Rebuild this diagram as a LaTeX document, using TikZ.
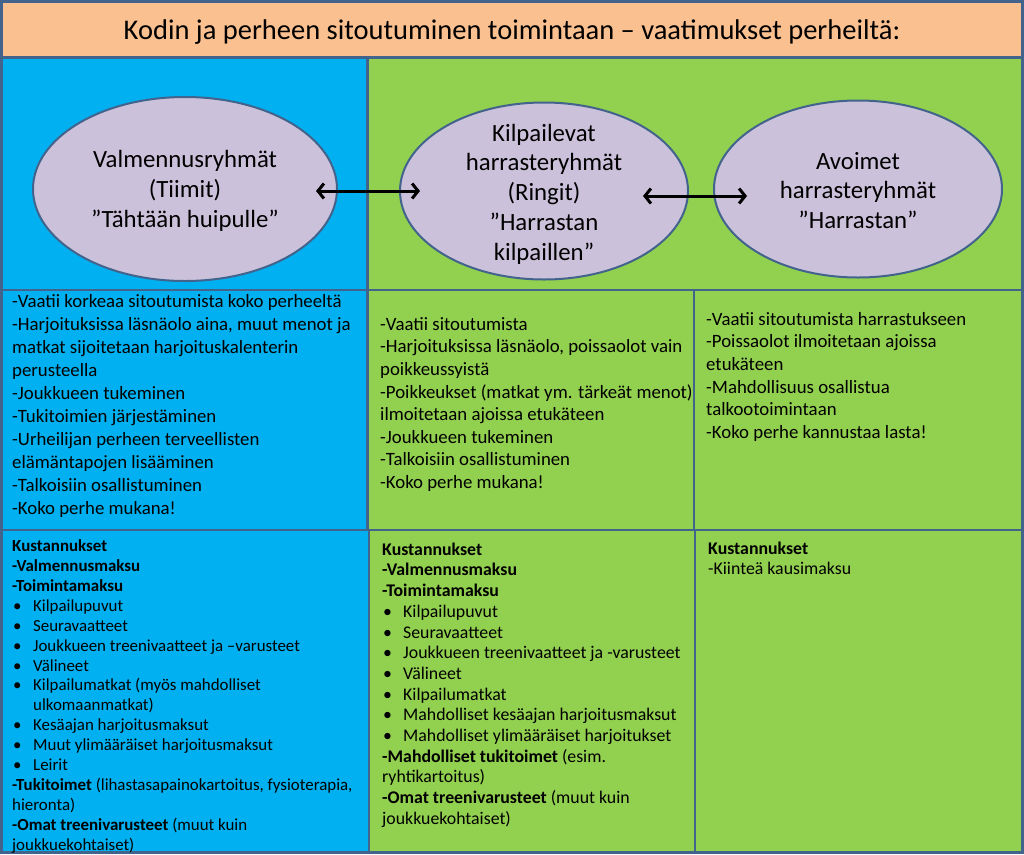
\documentclass[tikz,border=0pt]{standalone}
\usepackage{fontspec}
\setmainfont{Carlito}
\usetikzlibrary{arrows.meta,shapes.geometric}
\definecolor{cblue}{HTML}{00B0F0}
\definecolor{cgreen}{HTML}{92D050}
\definecolor{cpeach}{HTML}{FAC090}
\definecolor{clav}{HTML}{CCC1DA}
\definecolor{frame}{HTML}{41638C}
\newcommand{\bul}{\makebox[1pt][l]{}\makebox[20pt][l]{\textbullet}}
\newcommand{\ind}{\hspace*{21pt}}
\begin{document}
\begin{tikzpicture}[x=1pt,y=-1pt,
  cell/.style={draw=frame, line width=2.5pt},
  grp/.style={ellipse, draw=frame, line width=2pt, fill=clav, inner sep=0pt},
  grptext/.style={align=center, inner sep=0pt, font=\fontsize{24.8}{29.8}\selectfont},
  rowtwo/.style={anchor=north west, align=left, inner sep=0pt, font=\fontsize{18.8}{23}\selectfont},
  rowtwob/.style={anchor=north west, align=left, inner sep=0pt, font=\fontsize{18.8}{22.6}\selectfont},
  rowthree/.style={anchor=north west, align=left, inner sep=0pt, font=\fontsize{16.9}{19.9}\selectfont},
  rowthreeb/.style={anchor=north west, align=left, inner sep=0pt, font=\fontsize{17.8}{20.7}\selectfont},
  link/.style={{Straight Barb[length=6pt,width=15pt]}-{Straight Barb[length=6pt,width=15pt]}, line width=3pt, black}
]
\useasboundingbox (0,0) rectangle (1024,854);
\fill[frame] (0,0) rectangle (1024,854);
% cells
\draw[cell, fill=cpeach] (2,2) rectangle (1022,57.5);
\draw[cell, fill=cblue] (2,57.5) rectangle (367.5,290);
\draw[cell, fill=cgreen] (367.5,57.5) rectangle (1022,290);
\draw[cell, fill=cblue] (2,290) rectangle (367.5,530);
\draw[cell, fill=cgreen] (367.5,290) rectangle (694,530);
\draw[cell, fill=cgreen] (694,290) rectangle (1022,530);
\draw[cell, fill=cblue] (2,530) rectangle (369,852);
\draw[cell, fill=cgreen] (369,530) rectangle (695,852);
\draw[cell, fill=cgreen] (695,530) rectangle (1022,852);
% title
\node[inner sep=0pt, font=\fontsize{28.5}{32}\selectfont] (title) at (512,32) {Kodin ja perheen sitoutuminen toimintaan – vaatimukset perheiltä:};
% ellipses
\node[grp, minimum width=304pt, minimum height=184pt] (e1) at (185,189) {};
\node[grp, minimum width=288pt, minimum height=177pt] (e2) at (544,191) {};
\node[grp, minimum width=288pt, minimum height=177pt] (e3) at (858,189) {};
\node[grptext] (t1) at ([yshift=-2pt]e1.center) {Valmennusryhmät\\(Tiimit)\\”Tähtään huipulle”};
\node[grptext] (t2) at ([yshift=-3pt]e2.center) {Kilpailevat\\harrasteryhmät\\(Ringit)\\”Harrastan\\kilpaillen”};
\node[grptext] (t3) at ([yshift=-1.5pt]e3.center) {Avoimet\\harrasteryhmät\\”Harrastan”};
\draw[link] ([xshift=-22pt,yshift=-2pt]e1.east) -- ([xshift=21pt]e2.west);
\draw[link] ([xshift=-46pt,yshift=-5pt]e2.east) -- ([xshift=34pt,yshift=-7pt]e3.west);
% row 2
\node[rowtwo] (r2a) at (12,291) {\strut-Vaatii korkeaa sitoutumista koko perheeltä\\
-Harjoituksissa läsnäolo aina, muut menot ja\\
matkat sijoitetaan harjoituskalenterin\\
perusteella\\
-Joukkueen tukeminen\\
-Tukitoimien järjestäminen\\
-Urheilijan perheen terveellisten\\
elämäntapojen lisääminen\\
-Talkoisiin osallistuminen\\
-Koko perhe mukana!};
\node[rowtwob] (r2b) at (380,314.3) {\strut-Vaatii sitoutumista\\
-Harjoituksissa läsnäolo, poissaolot vain\\
poikkeussyistä\\
-Poikkeukset (matkat ym. tärkeät menot)\\
ilmoitetaan ajoissa etukäteen\\
-Joukkueen tukeminen\\
-Talkoisiin osallistuminen\\
-Koko perhe mukana!};
\node[rowtwob] (r2c) at (706,309.3) {\strut-Vaatii sitoutumista harrastukseen\\
-Poissaolot ilmoitetaan ajoissa\\
etukäteen\\
-Mahdollisuus osallistua\\
talkootoimintaan\\
-Koko perhe kannustaa lasta!};
% row 3
\node[rowthree] (r3a) at (12,537.5) {\strut\textbf{Kustannukset}\\
\textbf{-Valmennusmaksu}\\
\textbf{-Toimintamaksu}\\
\bul Kilpailupuvut\\
\bul Seuravaatteet\\
\bul Joukkueen treenivaatteet ja –varusteet\\
\bul Välineet\\
\bul Kilpailumatkat (myös mahdolliset\\
\ind ulkomaanmatkat)\\
\bul Kesäajan harjoitusmaksut\\
\bul Muut ylimääräiset harjoitusmaksut\\
\bul Leirit\\
\textbf{-Tukitoimet} (lihastasapainokartoitus, fysioterapia,\\
hieronta)\\
\textbf{-Omat treenivarusteet} (muut kuin\\
joukkuekohtaiset)};
\node[rowthreeb] (r3b) at (382,540.5) {\strut\textbf{Kustannukset}\\
\textbf{-Valmennusmaksu}\\
\textbf{-Toimintamaksu}\\
\bul Kilpailupuvut\\
\bul Seuravaatteet\\
\bul Joukkueen treenivaatteet ja -varusteet\\
\bul Välineet\\
\bul Kilpailumatkat\\
\bul Mahdolliset kesäajan harjoitusmaksut\\
\bul Mahdolliset ylimääräiset harjoitukset\\
\textbf{-Mahdolliset tukitoimet} (esim.\\
ryhtikartoitus)\\
\textbf{-Omat treenivarusteet} (muut kuin\\
joukkuekohtaiset)};
\node[rowthreeb] (r3c) at (708,539.5) {\strut\textbf{Kustannukset}\\
-Kiinteä kausimaksu};
\end{tikzpicture}
\end{document}
